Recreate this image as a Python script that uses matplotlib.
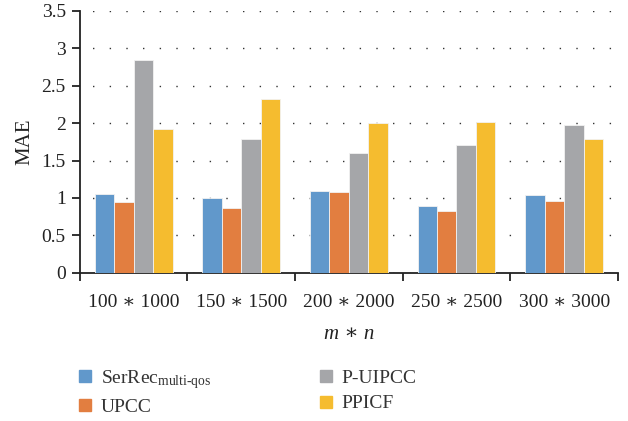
import numpy as np
import matplotlib.pyplot as plt
from matplotlib.lines import Line2D

plt.rcParams['font.family'] = ['Liberation Serif', 'DejaVu Serif']
plt.rcParams['mathtext.fontset'] = 'custom'
plt.rcParams['mathtext.rm'] = 'Liberation Serif'
plt.rcParams['mathtext.it'] = 'Liberation Serif:italic'

groups = ['100 ∗ 1000', '150 ∗ 1500', '200 ∗ 2000', '250 ∗ 2500', '300 ∗ 3000']
methods = ['SerRec$_{\\mathrm{multi}\\text{-}\\mathrm{qos}}$', 'UPCC', 'P-UIPCC', 'PPICF']
serrec = [1.06, 1.00, 1.10, 0.89, 1.04]
upcc = [0.95, 0.87, 1.08, 0.83, 0.96]
puipcc = [2.85, 1.79, 1.60, 1.71, 1.98]
ppicf = [1.92, 2.32, 2.00, 2.02, 1.79]
colors = ['#6198CB', '#E27E40', '#A5A6A9', '#F5BC2F']

fig = plt.figure(figsize=(6.28, 4.21), dpi=100)
ax = fig.add_axes([0.127, 0.352, 0.857, 0.622])

x = np.arange(len(groups))
w = 0.181
for i, vals in enumerate([serrec, upcc, puipcc, ppicf]):
    ax.bar(x + (i - 1.5) * w, vals, w, color=colors[i], edgecolor='#f2f2f2', linewidth=0.6, zorder=3)

ax.set_xlim(-0.5, 4.5)
ax.set_ylim(0, 3.5)
ax.set_yticks(np.arange(0, 3.51, 0.5))
ax.set_yticklabels(['0', '0.5', '1', '1.5', '2', '2.5', '3', '3.5'])
ax.set_xticks(x)
ax.set_xticklabels(groups)
ax.set_xticks(np.arange(-0.5, 4.6, 1), minor=True)
ax.tick_params(axis='x', which='major', length=0, pad=15, labelsize=14, colors='#222222')
ax.tick_params(axis='x', which='minor', length=6, width=1.3, direction='out', color='#222222')
ax.tick_params(axis='y', length=6, width=1.3, labelsize=14, colors='#222222', pad=4)

ax.yaxis.grid(True, linestyle=(3, (1, 11)), color='#333333', linewidth=1.0, zorder=0)
for s in ['top', 'right']:
    ax.spines[s].set_visible(False)
for s in ['left', 'bottom']:
    ax.spines[s].set_linewidth(1.3)
    ax.spines[s].set_color('#222222')

ax.set_ylabel('MAE', fontsize=15, color='#222222', labelpad=5)
ax.set_xlabel('m ∗ n', fontsize=15, style='italic', color='#222222', labelpad=10)

handles = [Line2D([], [], marker='s', linestyle='none', markersize=9, color=c) for c in colors]
fig.legend(handles, methods, loc='upper left', bbox_to_anchor=(0.108, 0.145), ncol=2,
           frameon=False, fontsize=14, handletextpad=0.3, columnspacing=5.4,
           labelspacing=0.4, handlelength=1.0, borderaxespad=0, labelcolor='#333333')

fig.savefig('out.png', dpi=100)
